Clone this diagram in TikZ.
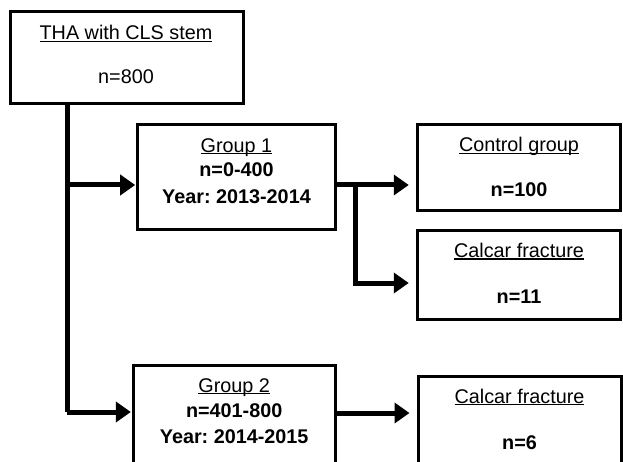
\documentclass[tikz,border=0pt]{standalone}
\usepackage{fontspec}
\setmainfont{Liberation Sans}
\usetikzlibrary{arrows.meta}
\frenchspacing
\newcommand\ulx[1]{\setbox0\hbox{#1}\rlap{\rule[-2.2pt]{\wd0}{1.4pt}}\box0}
\begin{document}
\begin{tikzpicture}[x=1pt,y=-1pt,
  box/.style={draw=black,line width=3pt,rectangle,inner sep=0pt},
  txt/.style={anchor=base,inner sep=0pt,font=\fontsize{19.8}{23}\selectfont},
  btxt/.style={txt,font=\fontsize{19.8}{23}\selectfont\bfseries},
  conn/.style={line width=5pt,line join=miter},
  arr/.style={conn,-{Triangle[length=15pt,width=20pt]}}]
\useasboundingbox (0,0) rectangle (623,462);
\clip (0,0) rectangle (623,462);
% boxes
\node[box,minimum width=233pt,minimum height=92.5pt] (tha) at (127,57.75) {};
\node[box,minimum width=197.6pt,minimum height=104.7pt] (g1) at (236.5,176.7) {};
\node[box,minimum width=203.5pt,minimum height=86pt] (ctrl) at (519,167.2) {};
\node[box,minimum width=203.5pt,minimum height=88.6pt] (cf1) at (519,275) {};
\node[box,minimum width=201.7pt,minimum height=130pt] (g2) at (234.2,430) {};
\node[box,minimum width=203pt,minimum height=130pt] (cf2) at (519.5,441.7) {};
% texts
\node[txt] (t1) at (126,40) {\ulx{THA with CLS stem}};
\node[txt] (t2) at (126,84) {n=800};
\node[txt] (t3) at (236.5,152.3) {\ulx{Group 1}};
\node[btxt] (t4) at (236.5,176.7) {n=0-400};
\node[btxt] (t5) at (236.5,203.3) {Year: 2013-2014};
\node[txt] (t6) at (519,152) {\ulx{Control group}};
\node[btxt] (t7) at (519,197) {n=100};
\node[txt] (t8) at (519,257.5) {\ulx{Calcar fracture}};
\node[btxt] (t9) at (519,303.5) {n=11};
\node[txt] (t10) at (234.2,392) {\ulx{Group 2}};
\node[btxt] (t11) at (234.2,417) {n=401-800};
\node[btxt] (t12) at (234.2,443) {Year: 2014-2015};
\node[txt] (t13) at (519.5,403) {\ulx{Calcar fracture}};
\node[btxt] (t14) at (519.5,449) {n=6};
% junctions
\coordinate (j1) at (67,185);
\coordinate (j2) at (67,412);
\coordinate (j3) at (355,185);
\coordinate (j4) at (355,283);
\coordinate (j5) at (0,413);
% connectors
\draw[conn] (tha.south -| j1) -- (j2);
\draw[arr,shorten >=1pt] (j2) -- (j2 -| g2.west);
\draw[arr,shorten >=1pt] (j1) -- (j1 -| g1.west);
\draw[arr,shorten >=7pt] (j1 -| g1.east) -- (j1 -| ctrl.west);
\draw[arr,shorten >=7pt] (j3) -- (j4) -- (j4 -| cf1.west);
\draw[arr,shorten >=7pt] (g2.east |- j5) -- (cf2.west |- j5);
\end{tikzpicture}
\end{document}
